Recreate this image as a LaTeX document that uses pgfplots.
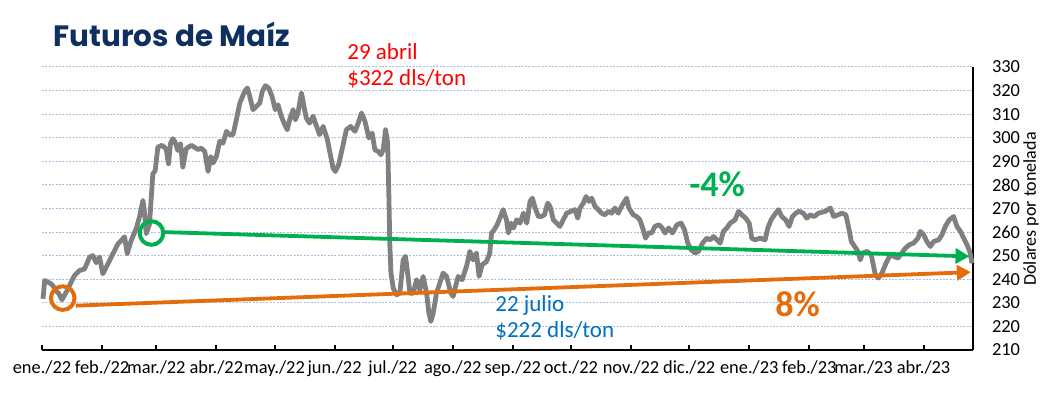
\documentclass[border=0pt]{standalone}
\usepackage{fontspec}
\setmainfont{Carlito}
\newfontfamily\titlefont{Poppins}
\usepackage{pgfplots}
\pgfplotsset{compat=1.18}
\usetikzlibrary{arrows.meta}
\definecolor{grayline}{RGB}{128,128,128}
\definecolor{mygreen}{RGB}{0,176,80}
\definecolor{myorange}{RGB}{228,108,10}
\definecolor{myred}{RGB}{255,0,0}
\definecolor{myblue}{RGB}{0,112,192}
\definecolor{navy}{RGB}{14,47,95}
\definecolor{gridc}{RGB}{170,190,225}
\begin{document}
\begin{tikzpicture}
\path[use as bounding box] (0,0) rectangle (522pt,197.5pt);
\begin{axis}[
 at={(21pt,22.5pt)}, anchor=south west,
 scale only axis, width=465.5pt, height=141.5pt,
 xmin=0, xmax=480.5, ymin=210, ymax=330,
 axis x line=bottom, axis y line=right,
 axis line style={-, line width=1.2pt, black},
 xtick={0,31,59,90,120,151,181,212,243,273,304,334,365,396,424,455},
 xticklabels={ene./22,feb./22,mar./22,abr./22,may./22,jun./22,jul./22,ago./22,sep./22,oct./22,nov./22,dic./22,ene./23,feb./23,mar./23,abr./23},
 ytick={210,220,...,330},
 ymajorgrids, grid style={gridc, line width=0.5pt, dash pattern=on 1pt off 0.7pt},
 x tick style={black, line width=1pt}, tick align=inside,
 major tick length=2.5pt,
 y tick style={draw=none},
 tick label style={font=\fontsize{9.2}{10}\selectfont},
 /pgf/number format/assume math mode=true,
 yticklabel style={xshift=6pt},
 xticklabel style={yshift=-2pt},
 clip=false,
]
\addplot[grayline, line width=2.4pt, line join=round] coordinates {
(0.5,231.7) (1.4,239.5) (3.1,238.8) (4.8,238) (6.2,236.6) (7.4,235) (8.6,234) (10.3,231.3) (12.5,234.5) (15.1,238.8) (16.8,241.6) (19.4,243.7) (22,244.4) (24.6,249.4) (26.3,250) (28,247) (29.7,249.4) (31.4,242.3) (34,246.5) (36.6,250.8) (39.2,255) (40.9,256.4) (42.6,258) (44,250.8) (46,256.4) (48.6,261.4) (50.3,266.4) (52.1,273.4) (52.9,268.5) (53.8,259.3) (55.5,263.5) (57.2,284.7) (58.4,286) (59.8,296) (61.9,296.8) (64.1,295.3) (65.3,289) (66.3,297.5) (67.5,299.6) (68.7,298.2) (70.1,294.6) (71.5,297.5) (72.7,287.6) (74.4,295.3) (77,296.8)
(80.6,295) (82.3,295.6) (84,294.2) (85.7,285.7) (87.1,292) (88.3,289.3) (90,292) (91.7,298.5) (93.4,297.7) (95.2,302.7) (96.9,301.3) (98.6,301.3) (100.3,307.6) (102.1,314.7) (104.6,319.7) (106,321.1) (107.2,317.6) (108.9,311.9) (110.6,313.3) (112.4,314.7) (113.7,319.7) (115.3,322.1) (117,321.1) (118.7,317.6) (120.4,311.9) (121.8,314) (123.5,309.1) (125.3,305.5) (126.6,303.4) (127.8,307.6) (129.6,311.9) (130.8,307.6) (132.1,310.5) (133.9,319) (135.2,313.3) (136.4,308.4) (138.1,306.2) (139.9,309.1) (141.1,306.2) (143.3,301.3) (145.1,304.8) (147.3,299.2) (149,292.1) (150.2,287.1) (151.4,285.7) (153.1,288.6) (155.4,297) (157.1,303.4) (159.3,304.8)
(161.5,302.7) (163.2,306.2) (164.9,310.5) (166.7,306.9) (168.7,299.9) (170.4,302) (171.8,294.9) (173.5,294.2) (174.9,292.8) (176.1,294.9) (177.3,303.4) (178.4,297.7) (179,276.5) (179.5,255.3) (180.1,242.6) (181.3,236.2) (183,233.4) (184.7,234.1) (186.4,248.2) (187.6,249.7) (188.7,242.6) (189.9,234.1) (191.6,234.1) (193.3,239.8) (195,235.5) (196.7,241.2) (198.5,234.1) (199.7,225.6) (200.7,222.1) (201.9,225.6) (203.6,234.1) (205.3,238.3) (207,242.6) (208.8,241.2) (211,234.1) (212.2,232.7) (213.4,236.9) (214.8,241.2) (216.8,239.8) (219.1,245.4) (220.8,251.8) (222.5,248.2) (224.2,251.1) (225.6,241.2) (227.1,246.1) (229.4,247.5) (231.1,251.1) (232,259.6) (233.4,261) (234.9,263.1) (236.3,265.9) (238,269.5) (239.7,265.2)
(240.7,259.6) (242.1,263.8) (243.3,261.7) (245,265.2) (246.7,263.8) (248.5,268) (250.2,263.8) (251.9,273) (253.1,274.4) (254.5,270.2) (256.2,266.6) (257.6,266.6) (259.3,267.3) (261,272.3) (262.2,270.9) (263.9,265.2) (265.6,263.8) (267.3,262.4) (269,265.2) (270.8,268) (273,268.8) (275.1,269.5) (276.5,265.9) (277.7,270.2) (279.4,272.3) (280.8,275.1) (282.3,273) (283.7,274.4) (285.4,270.9) (287.1,269.5) (288.8,268) (290.5,267.3) (292.3,268.8) (294,268) (295.7,270.2) (297.4,268) (299.1,270.9) (301.7,274.4) (302.9,270.2) (305.2,267.3) (306.9,266.6) (308.6,265.2) (310.3,261) (311.5,257.4) (312.9,259.6) (314.6,259.6) (316.3,262.4) (318.4,263.1) (320.1,261.7)
(321.6,259.6) (323.4,261.7) (325.4,259.6) (327.7,263.1) (329.9,263.8) (331.6,261) (333.3,255.3) (335,252.5) (337.1,251.1) (338.8,251.8) (340.9,255.3) (343.1,257.4) (344.8,256.7) (346.6,258.1) (348.3,256.7) (350,255.3) (351.7,260.3) (353.4,261.7) (355.2,263.8) (357.7,265.2) (359.5,268.8) (361.2,267.3) (363.2,265.9) (365,263.8) (366.3,257.4) (368,256.7) (370.6,257.4) (373.2,256.7) (374.6,261.7) (376.3,265.2) (378,267.3) (380.1,269.5) (381.8,266.6) (383.8,265.2) (385.6,262.4) (387.3,266.6) (389,268) (390.7,268.8) (392.9,268) (394.7,265.9) (396.4,267.3) (398.6,266.6) (400.7,268)
(404.3,268.8) (406.9,270.2) (408.6,266.6) (410.8,267.3) (412.9,268) (414.9,267.3) (416.2,262.4) (417.7,256) (419.4,253.9) (421.1,251.8) (422.3,248.2) (423.5,251.1) (425.8,251.8) (428,250.4) (429.2,245.4) (430.1,241.9) (431.8,240.5) (433.5,242.6) (435.6,246.8) (437.8,250.4) (439.5,249.7) (441.8,249) (443.8,251.1) (445.6,253.2) (447.6,254.6) (449.8,255.3) (452.1,257.4) (453.3,260.3) (455,258.9) (456.7,256) (458.5,253.9) (460.2,256) (462.8,256.7) (464.5,258.9) (466.2,262.4) (468.3,265.2) (470.5,266.6) (472.2,262.4) (474,260.3) (475.7,257.4) (477.4,254.6) (478.8,251.8) (480,246.8)
};
\addplot[mygreen, line width=1.9pt, -{Triangle[length=7pt,width=7.5pt]}] coordinates {(62.4,260) (478.7,249.7)};
\addplot[myorange, line width=1.9pt, -{Triangle[length=7pt,width=7.5pt]}] coordinates {(17.5,228.8) (479.4,243)};
\addplot[only marks, mark=o, mark size=5.9pt, myorange, mark options={line width=2pt}] coordinates {(10.7,232)};
\addplot[only marks, mark=o, mark size=5.9pt, mygreen, mark options={line width=2pt}] coordinates {(56.5,259.6)};
\end{axis}
\node[anchor=base west, text=navy, inner sep=0] at (26.5pt,174.2pt) {\resizebox{118.5pt}{!}{\titlefont\bfseries Futuros de Maíz}};
\node[anchor=base west, text=myred, inner sep=0, font=\fontsize{11.5}{13}\selectfont] at (173.5pt,167.5pt) {29 abril};
\node[anchor=base west, text=myred, inner sep=0, font=\fontsize{11.5}{13}\selectfont] at (173.5pt,154.5pt) {\$322 dls/ton};
\node[anchor=base west, text=myblue, inner sep=0, font=\fontsize{11.5}{13}\selectfont] at (247.5pt,41.7pt) {22 julio};
\node[anchor=base west, text=myblue, inner sep=0, font=\fontsize{11.5}{13}\selectfont] at (247.5pt,28.5pt) {\$222 dls/ton};
\node[anchor=base west, text=mygreen, inner sep=0, font=\fontsize{18}{20}\selectfont\bfseries] at (344.5pt,99.2pt) {-4\%};
\node[anchor=base west, text=myorange, inner sep=0, font=\fontsize{18}{20}\selectfont\bfseries] at (387.5pt,39.2pt) {8\%};
\node[rotate=90, anchor=center, inner sep=0, font=\fontsize{9}{10}\selectfont] at (515.5pt,93pt) {Dólares por tonelada};
\end{tikzpicture}
\end{document}
